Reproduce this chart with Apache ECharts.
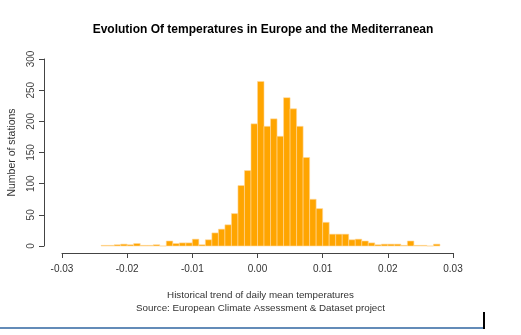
<!DOCTYPE html>
<html>
<head>
<meta charset="utf-8">
<script src="https://cdn.jsdelivr.net/npm/echarts@6/dist/echarts.min.js"></script>
<style>
  html, body { margin: 0; padding: 0; background: #fff; }
  #chart { width: 521px; height: 335px; }
</style>
</head>
<body>
<div id="chart"></div>
<script>
// histogram bins (left edge) and station counts
var binLefts = [-0.024, -0.023, -0.022, -0.021, -0.020, -0.019, -0.018, -0.017, -0.016, -0.015,
                -0.014, -0.013, -0.012, -0.011, -0.010, -0.009, -0.008, -0.007, -0.006, -0.005,
                -0.004, -0.003, -0.002, -0.001, 0.000, 0.001, 0.002, 0.003, 0.004, 0.005,
                0.006, 0.007, 0.008, 0.009, 0.010, 0.011, 0.012, 0.013, 0.014, 0.015,
                0.016, 0.017, 0.018, 0.019, 0.020, 0.021, 0.022, 0.023, 0.024, 0.025,
                0.026, 0.027];
var counts = [1, 1, 2, 3, 2, 4, 1, 1, 2, 0,
              8, 4, 5, 5, 11, 2, 10, 21, 27, 34,
              52, 97, 121, 196, 264, 192, 204, 176, 238, 220,
              192, 142, 75, 60, 38, 19, 19, 19, 10, 11,
              8, 5, 2, 3, 3, 3, 1, 8, 1, 1,
              0, 3];
var binWidth = 0.001;
var xTicks = [-0.03, -0.02, -0.01, 0.00, 0.01, 0.02, 0.03];
var yTicks = [0, 50, 100, 150, 200, 250, 300];

var seriesData = [];
for (var i = 0; i < binLefts.length; i++) {
    seriesData.push([binLefts[i], binLefts[i] + binWidth, counts[i]]);
}

var font = 'Liberation Sans, Arial, sans-serif';

var myChart = echarts.init(document.getElementById('chart'));
var option = {
    animation: false,
    title: {
        text: 'Evolution Of temperatures in Europe and the Mediterranean',
        left: 258, top: 19, textAlign: 'center',
        textStyle: { fontFamily: font, fontSize: 12, fontWeight: 'bold', color: '#000' }
    },
    grid: { left: 62, right: 68, top: 59, bottom: 89, outerBoundsMode: 'none', containLabel: false },
    xAxis: {
        type: 'value', min: -0.03, max: 0.03, interval: 0.01,
        offset: 7,
        axisLine: { show: true, onZero: false, lineStyle: { color: '#444', width: 1 } },
        axisTick: { show: true, length: 5, lineStyle: { color: '#444' } },
        splitLine: { show: false },
        axisLabel: {
            fontFamily: font, fontSize: 10, color: '#333', margin: 11,
            showMinLabel: true, showMaxLabel: true,
            formatter: function (v) {
                var t = xTicks.filter(function (d) { return Math.abs(d - v) < 1e-9; });
                return t.length ? t[0].toFixed(2) : '';
            }
        }
    },
    yAxis: {
        type: 'value', min: 0, max: 300, interval: 50,
        offset: 18,
        name: 'Number of stations', nameLocation: 'middle', nameGap: 26,
        nameMoveOverlap: false,
        nameTextStyle: { fontFamily: font, fontSize: 10.5, color: '#333' },
        axisLine: { show: true, onZero: false, lineStyle: { color: '#444', width: 1 } },
        axisTick: { show: true, length: 5, lineStyle: { color: '#444' } },
        splitLine: { show: false },
        axisLabel: {
            fontFamily: font, fontSize: 10, color: '#444', margin: 8, rotate: 90,
            formatter: function (v) { return yTicks.indexOf(v) >= 0 ? String(v) : ''; }
        }
    },
    graphic: [
        { type: 'text', left: 'center', top: 290,
          style: { text: 'Historical trend of daily mean temperatures', fontFamily: font, fontSize: 9.8, fill: '#333' } },
        { type: 'text', left: 'center', top: 303,
          style: { text: 'Source: European Climate Assessment & Dataset project', fontFamily: font, fontSize: 9.8, fill: '#333' } },
        { type: 'line', shape: { x1: 0, y1: 328, x2: 483, y2: 328 }, style: { stroke: '#2f65a0', lineWidth: 1.5 } },
        { type: 'line', shape: { x1: 484, y1: 312, x2: 484, y2: 329 }, style: { stroke: '#000', lineWidth: 2 } }
    ],
    series: [{
        type: 'custom',
        data: seriesData,
        encode: { x: [0, 1], y: 2 },
        renderItem: function (params, api) {
            var p0 = api.coord([api.value(0), 0]);
            var p1 = api.coord([api.value(1), api.value(2)]);
            return {
                type: 'rect',
                shape: { x: p0[0], y: p1[1], width: p1[0] - p0[0], height: p0[1] - p1[1] },
                style: { fill: '#FFA500', stroke: '#ffd79a', lineWidth: 0.6 }
            };
        }
    }]
};
myChart.setOption(option);
</script>
</body>
</html>
